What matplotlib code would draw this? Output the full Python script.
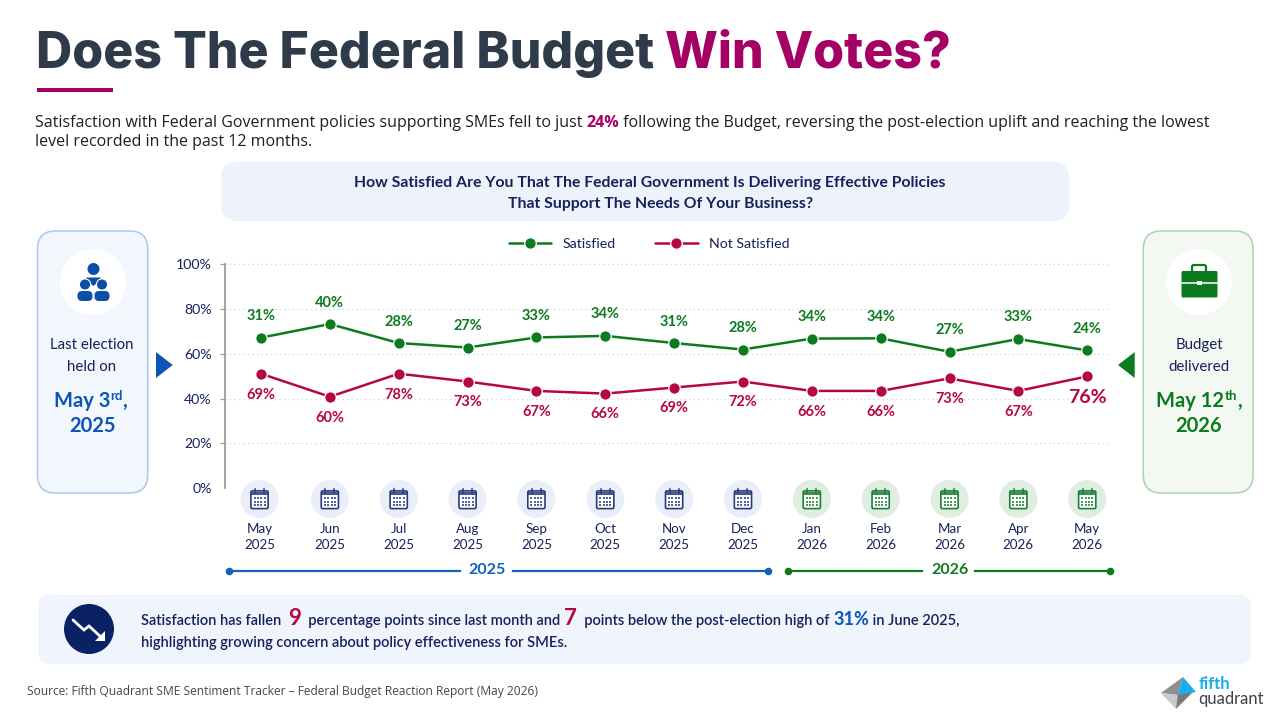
"""Does The Federal Budget Win Votes? - SME satisfaction tracker slide.

Layout is worked out in pixels on a 1280x720 canvas; the line chart has its own axes.
Output: out.png
"""

import numpy as np
import matplotlib
matplotlib.use('Agg')
import matplotlib.pyplot as plt
from matplotlib.patches import FancyBboxPatch, Circle, Polygon, Rectangle

months = ['May', 'Jun', 'Jul', 'Aug', 'Sep', 'Oct', 'Nov', 'Dec', 'Jan', 'Feb', 'Mar', 'Apr', 'May']
years = ['2025'] * 8 + ['2026'] * 5

# heights on the 0-100% axis
satisfied_height = [67.2, 73.3, 64.8, 62.8, 67.3, 68.0, 64.8, 61.9, 66.8, 66.9, 60.9, 66.6, 61.5]
not_satisfied_height = [51.1, 40.8, 51.1, 47.6, 43.4, 42.2, 44.9, 47.6, 43.4, 43.4, 49.0, 43.4, 49.9]

# survey results printed next to the points
satisfied_label = [31, 40, 28, 27, 33, 34, 31, 28, 34, 34, 27, 33, 24]
not_satisfied_label = [69, 60, 78, 73, 67, 66, 69, 72, 66, 66, 73, 67, 76]

y_ticks = [0, 20, 40, 60, 80, 100]

DARK = '#2f3a4a'
ACCENT = '#a50064'
NAVY = '#16215c'
BLUE = '#0b55b5'
GREEN = '#0c7a1f'
RED = '#b5083f'

BODY = ['Open Sans', 'DejaVu Sans']
HEAD = ['Lato', 'DejaVu Sans']
TITLE = ['Inter', 'DejaVu Sans']

X0, DX = 261.0, 68.85   # pixel x of the first month and the month spacing
AX_L, AX_R, AX_T, AX_B = 225, 1108, 264.3, 488


def month_x(i):
    return X0 + DX * i


def rbox(ax, x0, y0, x1, y1, r, fc, ec='none', lw=0, z=1):
    p = FancyBboxPatch((x0 + r, y0 + r), x1 - x0 - 2 * r, y1 - y0 - 2 * r,
                       boxstyle=f'round,pad={r},rounding_size={r}',
                       fc=fc, ec=ec, lw=lw, zorder=z)
    ax.add_patch(p)
    return p


def runs(ax, x, y, parts, align='left', family=HEAD):
    """Write differently styled pieces of text one after another on a baseline."""
    r = ax.figure.canvas.get_renderer()
    items, total = [], 0
    for part in parts:
        s, color, size, weight = part[:4]
        rise = part[4] if len(part) > 4 else 0
        t = ax.text(0, y - rise, s, color=color, fontsize=size, fontweight=weight,
                    family=family, ha='left', va='baseline', zorder=6)
        w = t.get_window_extent(r).width
        items.append((t, w))
        total += w
    cur = x - total / 2 if align == 'center' else x
    for t, w in items:
        t.set_x(cur)
        cur += w


def calendar(ax, cx, cy, bg, fg):
    ax.add_patch(Circle((cx, cy), 19, fc=bg, ec='none', zorder=2))
    ax.add_patch(FancyBboxPatch((cx - 8, cy - 7.5), 16, 16.5, boxstyle='round,pad=0.6,rounding_size=1.5',
                                fc='white', ec=fg, lw=1.2, zorder=3))
    ax.add_patch(Rectangle((cx - 8.5, cy - 7.5), 17, 3.8, fc=fg, ec='none', alpha=0.85, zorder=3))
    for dx in (-4.5, 4.5):
        ax.plot([cx + dx, cx + dx], [cy - 10.5, cy - 6.5], color=fg, lw=1.1, zorder=4)
    gx, gy = np.meshgrid(np.linspace(-5, 5, 4), np.linspace(-0.8, 5.8, 3))
    ax.scatter(cx + gx.ravel(), cy + gy.ravel(), s=2.2, color=fg, marker='s', lw=0, zorder=4, alpha=0.8)


def people_icon(ax, cx, cy, color):
    ax.add_patch(Circle((cx + 0.5, cy - 13), 6, fc=color, zorder=4))
    ax.add_patch(Polygon([(cx - 7, cy - 4.5), (cx + 8, cy - 4.5), (cx + 4, cy + 1), (cx + 0.5, cy + 4), (cx - 3, cy + 1)],
                         fc=color, zorder=4))
    for dx in (-8.5, 8.5):
        ax.add_patch(Circle((cx + dx + 0.5, cy + 2.5), 5.6, fc=color, ec='white', lw=0.8, zorder=5))
        rbox(ax, cx + dx - 7, cy + 9, cx + dx + 8, cy + 19, 4.5, color, z=5)


def briefcase_icon(ax, cx, cy, color):
    rbox(ax, cx - 7, cy - 17, cx + 7, cy - 8, 2, 'none', ec=color, lw=1.6, z=4)
    rbox(ax, cx - 17.5, cy - 11, cx + 18.5, cy + 15.5, 1.5, color, z=5)
    ax.plot([cx - 17.5, cx + 18.5], [cy + 1, cy + 1], color='white', lw=1.1, zorder=6)
    ax.add_patch(Rectangle((cx - 2, cy - 1), 5, 4, fc='white', zorder=6))


def trend_icon(ax, cx, cy):
    ax.add_patch(Circle((cx, cy), 25, fc='#0a2263', zorder=4))
    ax.plot([cx - 16, cx - 5, cx, cx + 13], [cy - 9, cy + 1, cy - 3, cy + 9],
            color='white', lw=2, solid_capstyle='round', solid_joinstyle='miter', zorder=5)
    ax.add_patch(Polygon([(cx + 16, cy + 2), (cx + 16, cy + 12), (cx + 6, cy + 12)], fc='white', zorder=5))


def logo(ax):
    ax.add_patch(Polygon([(1161, 693), (1183, 677), (1178, 695)], fc='#8d8f92', zorder=4))
    ax.add_patch(Polygon([(1161, 693), (1178, 695), (1176, 709)], fc='#c9cacc', zorder=4))
    ax.add_patch(Polygon([(1176, 709), (1178, 693), (1193, 692)], fc='#77797c', zorder=4))
    ax.add_patch(Polygon([(1183, 677), (1196, 692), (1178, 695)], fc='#17aeea', zorder=5))
    ax.text(1198.5, 689, 'fifth', color='#17aeea', fontsize=12, fontweight='bold', family=HEAD, zorder=6)
    ax.text(1198.5, 704, 'quadrant', color='#3d4249', fontsize=12, family=HEAD, zorder=6)


def main():
    fig = plt.figure(figsize=(12.8, 7.2), dpi=100, facecolor='white')

    # canvas in pixel coordinates for everything around the chart
    bg = fig.add_axes([0, 0, 1, 1])
    bg.set_xlim(0, 1280)
    bg.set_ylim(720, 0)
    bg.axis('off')
    fig.canvas.draw()

    # heading
    runs(bg, 36, 68, [('Does The Federal Budget ', DARK, 36, 'heavy'),
                      ('Win Votes?', ACCENT, 36, 'heavy')], family=TITLE)
    bg.add_patch(Rectangle((37, 88), 76, 4, fc=ACCENT, ec='none', zorder=3))

    runs(bg, 35, 127, [('Satisfaction with Federal Government policies supporting SMEs fell to just ', '#1c1f24', 11.49, 'normal'),
                       ('24%', ACCENT, 11.49, 'bold'),
                       (' following the Budget, reversing the post-election uplift and reaching the lowest', '#1c1f24', 11.49, 'normal')],
         family=BODY)
    runs(bg, 35, 146, [('level recorded in the past 12 months.', '#1c1f24', 11.49, 'normal')], family=BODY)

    # question banner
    rbox(bg, 221, 162, 1069, 221, 16, '#eef3fb')
    runs(bg, 650, 187, [('How Satisfied Are You That The Federal Government Is Delivering Effective Policies', NAVY, 11.35, 'bold')], align='center')
    runs(bg, 661, 208, [('That Support The Needs Of Your Business?', NAVY, 11.35, 'bold')], align='center')

    # left side panel
    rbox(bg, 37.5, 231, 147.7, 493, 18, '#f2f6fd', ec='#a9c8ec', lw=1.1)
    bg.add_patch(Circle((93, 282), 33, fc='white', zorder=3))
    people_icon(bg, 93, 282, '#0b4fa8')
    runs(bg, 92, 349, [('Last election', NAVY, 10.8, 'normal')], align='center')
    runs(bg, 92, 371, [('held on', NAVY, 10.8, 'normal')], align='center')
    runs(bg, 90.5, 407, [('May 3', BLUE, 14.5, 'bold'), ('rd', BLUE, 9.5, 'bold', 7), (',', BLUE, 14.5, 'bold')], align='center')
    runs(bg, 92, 432, [('2025', BLUE, 14.5, 'bold')], align='center')
    bg.add_patch(Polygon([(156, 352), (172.7, 365), (156, 378)], fc=BLUE, zorder=3))

    # right side panel
    rbox(bg, 1143.3, 231, 1253, 493, 18, '#f3f8f3', ec='#a8d3ae', lw=1.1)
    bg.add_patch(Circle((1199, 282), 33, fc='white', zorder=3))
    briefcase_icon(bg, 1199, 282, GREEN)
    runs(bg, 1199, 349, [('Budget', NAVY, 10.8, 'normal')], align='center')
    runs(bg, 1199, 371, [('delivered', NAVY, 10.8, 'normal')], align='center')
    runs(bg, 1199, 407, [('May 12', GREEN, 14.5, 'bold'), ('th', GREEN, 9.5, 'bold', 7), (',', GREEN, 14.5, 'bold')], align='center')
    runs(bg, 1199, 432, [('2026', GREEN, 14.5, 'bold')], align='center')
    bg.add_patch(Polygon([(1134.7, 352), (1118, 365), (1134.7, 378)], fc=GREEN, zorder=3))

    # month strip below the chart
    for i, (m, yr) in enumerate(zip(months, years)):
        is_2025 = yr == '2025'
        cx = month_x(i) - (1.5 if i == 0 else 0)
        calendar(bg, cx, 499, '#e9eef9' if is_2025 else '#dfeee1', '#2b3c7e' if is_2025 else '#1d7f33')
        bg.text(cx, 529, m, color=NAVY, fontsize=9.6, family=HEAD, ha='center', va='center', zorder=6)
        bg.text(cx, 545, yr, color=NAVY, fontsize=9.6, family=HEAD, ha='center', va='center', zorder=6)

    # year brackets
    for x0, x1, gap0, gap1, label_x, label, col in [(229, 768, 460, 513, 487, '2025', '#1261bd'),
                                                    (788, 1110, 922, 975, 950, '2026', GREEN)]:
        bg.plot([x0, gap0], [571, 571], color=col, lw=1.6, zorder=3)
        bg.plot([gap1, x1], [571, 571], color=col, lw=1.6, zorder=3)
        bg.scatter([x0, x1], [571, 571], s=30, color=col, lw=0, zorder=4)
        bg.text(label_x, 570.5, label, color=col, fontsize=11.5, fontweight='bold', family=HEAD,
                ha='center', va='center', zorder=5)

    # takeaway banner
    rbox(bg, 38, 595, 1251, 664, 12, '#f0f4fc')
    trend_icon(bg, 89, 629)
    runs(bg, 141, 625, [('Satisfaction has fallen  ', NAVY, 10.55, 'semibold'),
                        ('9', RED, 16, 'bold'),
                        ('  percentage points since last month and ', NAVY, 10.55, 'semibold'),
                        ('7', RED, 16, 'bold'),
                        ('  points below the post-election high of ', NAVY, 10.55, 'semibold'),
                        ('31%', BLUE, 13, 'bold'),
                        (' in June 2025,', NAVY, 10.55, 'semibold')])
    runs(bg, 141, 647, [('highlighting growing concern about policy effectiveness for SMEs.', NAVY, 10.55, 'semibold')])

    # footer
    bg.text(27, 695, 'Source: Fifth Quadrant SME Sentiment Tracker \u2013 Federal Budget Reaction Report (May 2026)',
            color='#43474d', fontsize=8.65, family=BODY, zorder=6)
    logo(bg)

    # line chart
    ax = fig.add_axes([AX_L / 1280, 1 - AX_B / 720, (AX_R - AX_L) / 1280, (AX_B - AX_T) / 720])
    ax.patch.set_alpha(0)
    x = np.arange(len(months))
    ax.set_xlim((AX_L - X0) / DX, (AX_R - X0) / DX)
    ax.set_ylim(0, 100)

    marker = dict(marker='o', ms=8.3, mec='white', mew=0.9, lw=1.8, solid_capstyle='round', clip_on=False)
    ax.plot(x, satisfied_height, color=GREEN, label='Satisfied', **marker)
    ax.plot(x, not_satisfied_height, color=RED, label='Not Satisfied', **marker)

    for i, v in enumerate(satisfied_label):
        ax.annotate(f'{v}%', (i, satisfied_height[i]), xytext=(0, 15.5), textcoords='offset points',
                    color=GREEN, fontsize=10.5, fontweight='bold', family=HEAD, ha='center', va='center')
    for i, v in enumerate(not_satisfied_label):
        last = i == len(not_satisfied_label) - 1
        ax.annotate(f'{v}%', (i, not_satisfied_height[i]), xytext=(0, -15), textcoords='offset points',
                    color=RED, fontsize=14 if last else 10.5, fontweight='bold', family=HEAD,
                    ha='center', va='center')

    ax.set_yticks(y_ticks)
    ax.set_yticklabels([f'{t}%' for t in y_ticks], color=NAVY, fontsize=10.2, family=HEAD)
    ax.set_xticks([])
    ax.tick_params(axis='y', length=3.6, width=0.9, color='#9a9da3', pad=6)
    ax.yaxis.get_major_ticks()[0].tick1line.set_visible(False)
    for t in y_ticks[1:]:
        ax.axhline(t, color='#cfd3d8', lw=0.9, ls=(0, (1, 2.6)), zorder=0, clip_on=False)
    for s in ('top', 'right', 'bottom'):
        ax.spines[s].set_visible(False)
    ax.spines['left'].set_color('#9a9da3')
    ax.spines['left'].set_linewidth(1.3)

    ax.legend(loc='center', bbox_to_anchor=(649 / 1280, 1 - 244 / 720), bbox_transform=fig.transFigure,
              ncol=2, frameon=False, prop={'family': HEAD, 'size': 10.2}, labelcolor=NAVY,
              handlelength=3.0, handletextpad=0.8, columnspacing=2.8)

    fig.savefig('out.png', dpi=100)
    print('Saved: out.png')


if __name__ == '__main__':
    main()
